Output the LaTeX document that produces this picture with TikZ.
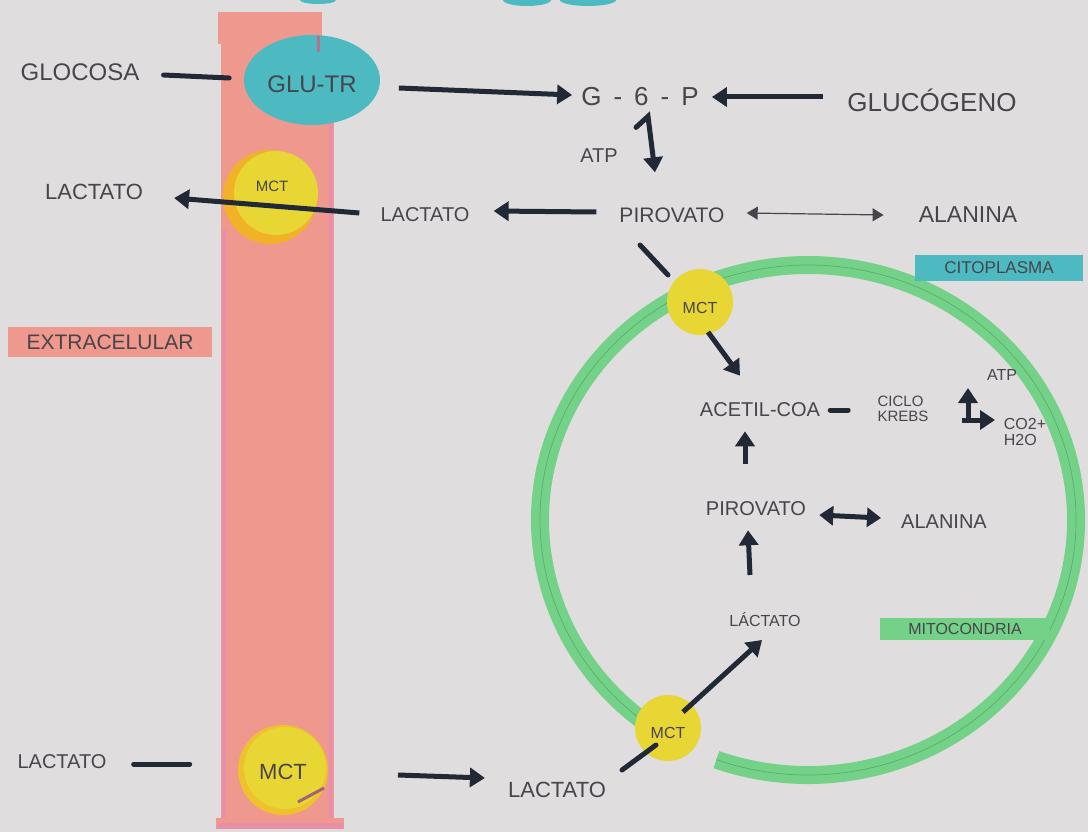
\documentclass[tikz,border=0pt]{standalone}
\usepackage{fontspec}
\setmainfont{Liberation Sans}
\usetikzlibrary{arrows.meta}
\definecolor{paper}{RGB}{224,221,223}
\definecolor{ink}{RGB}{33,40,54}
\definecolor{pencil}{RGB}{72,68,76}
\definecolor{membrane}{RGB}{238,152,142}
\definecolor{memedge}{RGB}{230,140,178}
\definecolor{tealc}{RGB}{76,186,192}
\definecolor{mcty}{RGB}{232,214,52}
\definecolor{mcto}{RGB}{242,178,40}
\definecolor{ringc}{RGB}{116,210,136}
\definecolor{ringdark}{RGB}{70,150,95}
\tikzset{
  lbl/.style={text=pencil, inner sep=1pt, font=\fontsize{#1}{#1}\selectfont},
  lbl/.default=20,
  flow/.style={draw=ink, line width=5pt, -{Triangle[length=15pt,width=19pt]}},
  bar/.style={draw=ink, line width=5pt, line cap=round},
  thinarrow/.style={draw=pencil, line width=1.2pt, {Triangle[length=11pt,width=13pt]}-{Triangle[length=11pt,width=13pt]}},
  dbl/.style={draw=ink, line width=5pt, {Triangle[length=14pt,width=19pt]}-{Triangle[length=14pt,width=19pt]}},
  tag/.style={inner sep=3pt, text=pencil, font=\fontsize{#1}{#1}\selectfont},
}
\begin{document}
\begin{tikzpicture}[x=1pt,y=-1pt]
\useasboundingbox[fill=paper] (0,0) rectangle (1088,832);
% top teal remnants
\fill[tealc] (318,0) ellipse[x radius=18, y radius=4];
\fill[tealc] (527,0) ellipse[x radius=24, y radius=6];
\fill[tealc] (588,0) ellipse[x radius=28, y radius=6];
% membrane band
\fill[membrane] (218,12) rectangle (322,44);
\fill[membrane] (221,40) rectangle (334,822);
\fill[membrane] (216,818) rectangle (344,829);
\draw[memedge, line width=4pt, opacity=.8] (224,230) -- (224,818);
\draw[memedge, line width=4pt, opacity=.8] (331,120) -- (331,818);
\draw[memedge, line width=6pt, opacity=.7] (218,826) -- (343,826);
% GLU-TR
\fill[tealc] (312,80) ellipse[x radius=68, y radius=45];
\draw[memedge!80!black, line width=3pt] (318,36) -- (318,52);
\node[lbl=24] (glut) at (312,84) {GLU-TR};
% MCT on membrane
\fill[mcto] (270,197) circle[radius=47];
\fill[mcty] (276,193) circle[radius=42];
\node[lbl=15] (mct1) at (272,186) {MCT};
\fill[mcto!60!mcty] (283,770) circle[radius=45];
\fill[mcty] (285,768) circle[radius=41];
\node[lbl=22] (mct2) at (283,772) {MCT};
\draw[memedge!70!black, line width=3pt] (298,802) -- (324,788);
% mitochondrion ring
\draw[ringc, line width=18pt] (654.3,728.9) arc[start angle=125, end angle=470, x radius=268, y radius=255];
\draw[ringdark, line width=.7pt, opacity=.6] (654.3,728.9) arc[start angle=125, end angle=470, x radius=268, y radius=255];
\fill[mcty] (700,302) circle[radius=33];
\node[lbl=16] (mct3) at (700,308) {MCT};
\fill[mcty] (668,728) circle[radius=33];
\node[lbl=16] (mct4) at (668,733) {MCT};
% tags
\node[tag=21, fill=membrane, minimum width=204pt, minimum height=30pt] (extra) at (110,342) {EXTRACELULAR};
\node[tag=17, fill=tealc, minimum width=168pt, minimum height=26pt] (cito) at (999,268) {CITOPLASMA};
\node[tag=16, fill=ringc, minimum width=170pt, minimum height=22pt] (mito) at (965,629) {MITOCONDRIA};
% labels
\node[lbl=24] (glucosa) at (80,72) {GLOCOSA};
\node[lbl=26] (g6p) at (640,97) {G\hspace{12pt}-\hspace{12pt}6\hspace{12pt}-\hspace{12pt}P};
\node[lbl=26] (glucogeno) at (932,100) {GLUCÓGENO};
\node[lbl=20] (atp1) at (599,156) {ATP};
\node[lbl=21] (piru1) at (672,215) {PIROVATO};
\node[lbl=23] (ala1) at (968,215) {ALANINA};
\node[lbl=20] (lact1) at (425,215) {LACTATO};
\node[lbl=22] (lact0) at (94,192) {LACTATO};
\node[lbl=20] (acetil) at (760,410) {ACETIL-COA};
\node[lbl=15, align=left] (krebs) at (903,409) {CICLO\\KREBS};
\node[lbl=16] (atp2) at (1002,375) {ATP};
\node[lbl=16, align=left] (co2) at (1025,432) {CO2+\\ H2O};
\node[lbl=20] (piru2) at (756,509) {PIROVATO};
\node[lbl=20] (ala2) at (944,522) {ALANINA};
\node[lbl=16] (lact2) at (765,620) {LÁCTATO};
\node[lbl=20] (lact3) at (62,762) {LACTATO};
\node[lbl=22] (lact4) at (557,790) {LACTATO};
\coordinate (krebsnode) at (968,420);
% connectors
\draw[bar] ([xshift=23,yshift=-3]glucosa.east) -- ([xshift=-37,yshift=6]glut.west);
\draw[flow] ([xshift=41,yshift=-4]glut.east) -- ([xshift=-8,yshift=2]g6p.west);
\draw[flow] ([xshift=-23,yshift=3]glucogeno.west) -- ([xshift=12]g6p.east);
\draw[flow, line cap=round] ([xshift=-4,yshift=-20]g6p.south) -- ([xshift=8,yshift=-9]g6p.south) -- ([xshift=-17,yshift=34]piru1.north);
\draw[flow] ([xshift=-22,yshift=3]piru1.west) -- ([xshift=23,yshift=4]lact1.east);
\draw[flow] ([xshift=-20,yshift=2]lact1.west) -- ([xshift=30,yshift=-6]lact0.east);
\draw[thinarrow] ([xshift=21,yshift=2]piru1.east) -- ([xshift=-34]ala1.west);
\draw[bar] ([xshift=-32,yshift=-30]piru1.center) -- ([xshift=-32,yshift=33]mct3.center);
\draw[flow] ([xshift=8,yshift=-24]mct3.center) -- ([xshift=-20,yshift=26]acetil.north);
\draw[bar] ([xshift=9]acetil.east) -- ([xshift=27]acetil.east);
\draw[flow] (krebsnode) -- ([yshift=32]krebsnode);
\draw[flow] ([xshift=-6]krebsnode) -- ([xshift=27]krebsnode);
\draw[flow] ([xshift=-15,yshift=-46]acetil.south) -- ([xshift=-15,yshift=-13]acetil.south);
\draw[dbl] ([xshift=12,yshift=-6]piru2.east) -- ([xshift=-19,yshift=4]ala2.west);
\draw[flow] ([xshift=-15,yshift=45]lact2.center) -- ([xshift=-8,yshift=-13]piru2.south);
\draw[flow] ([xshift=15,yshift=21]mct4.center) -- ([xshift=-3,yshift=-20]lact2.center);
\draw[bar] ([xshift=65,yshift=20]lact4.center) -- ([xshift=-12,yshift=-12]mct4.center);
\draw[bar] ([xshift=26,yshift=-2]lact3.east) -- ([xshift=82,yshift=-2]lact3.east);
\draw[flow] ([xshift=115,yshift=-3]mct2.center) -- ([xshift=-22,yshift=12]lact4.west);
\end{tikzpicture}
\end{document}
